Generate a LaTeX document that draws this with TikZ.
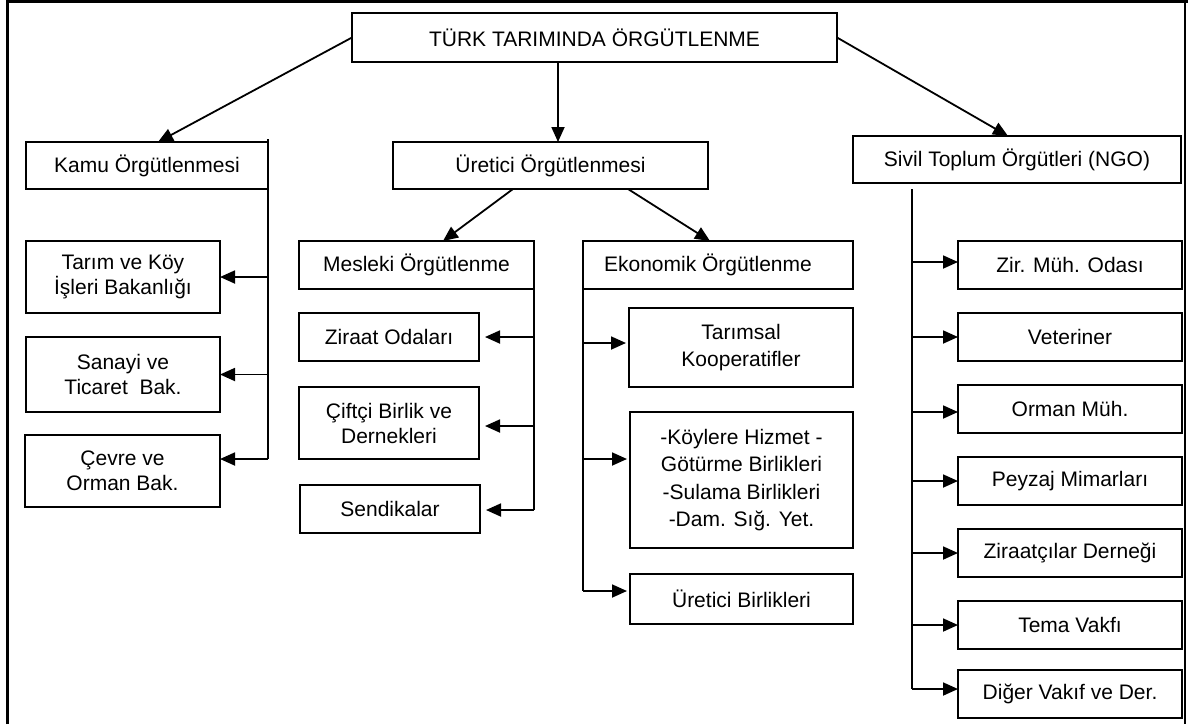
\documentclass[tikz,border=0pt]{standalone}
\usepackage{fontspec}
\setmainfont{Liberation Sans}
\usetikzlibrary{arrows.meta}
\begin{document}
\begin{tikzpicture}[x=1pt,y=-1pt,
  box/.style={draw, line width=1.9pt, inner sep=0pt, outer sep=0pt, align=center,
    font=\fontsize{21}{25}\selectfont},
  tall/.style={font=\fontsize{21}{27.5}\selectfont},
  conn/.style={line width=1.8pt},
  arr/.style={conn, -{Triangle[length=15pt,width=13pt]}},
  ngo/.style={box, minimum width=224pt, minimum height=48pt}]
\useasboundingbox (0,0) rectangle (1188,724);
% frame
\draw[line width=3pt] (7,724) -- (7,1.5) -- (1188,1.5);
\draw[line width=2pt] (1185,0) -- (1185,724);

% level 0/1
\node[box, minimum width=485pt, minimum height=49pt] (top) at (594.5,37.5) {TÜRK TARIMINDA ÖRGÜTLENME};
\node[box, minimum width=242pt, minimum height=47pt] (kamu) at (147,165.5) {Kamu Örgütlenmesi};
\node[box, minimum width=315pt, minimum height=47pt] (ure) at (550.5,165.5) {Üretici Örgütlenmesi};
\node[box, minimum width=328pt, minimum height=47pt] (sivil) at (1017,159.5) {Sivil Toplum Örgütleri (NGO)};

% Kamu children
\node[box, minimum width=194pt, minimum height=72pt] (tarim) at (123,277) {Tarım ve Köy\\İşleri Bakanlığı};
\node[box, minimum width=194pt, minimum height=75pt] (sanayi) at (123,374.5) {Sanayi ve\\Ticaret\ \ Bak.};
\node[box, minimum width=195pt, minimum height=72pt] (cevre) at (122.5,471) {Çevre ve\\Orman Bak.};

% Uretici children
\node[box, minimum width=235pt, minimum height=48pt] (mes) at (416.5,265) {Mesleki Örgütlenme};
\node[box, minimum width=270pt, minimum height=48pt] (eko) at (718,265) {\hspace*{-20pt}Ekonomik Örgütlenme};

\node[box, minimum width=180pt, minimum height=48pt] (ziraat) at (389,337) {Ziraat Odaları};
\node[box, minimum width=180pt, minimum height=72pt] (ciftci) at (389,423) {Çiftçi Birlik ve\\Dernekleri};
\node[box, minimum width=180pt, minimum height=48pt] (send) at (390,509) {Sendikalar};

\node[box, tall, minimum width=224pt, minimum height=79pt] (koop) at (741,347.5) {Tarımsal\\Kooperatifler};
\node[box, tall, minimum width=223pt, minimum height=136pt] (koy) at (741.5,480) {-Köylere Hizmet -\\Götürme Birlikleri\\-Sulama Birlikleri\\-Dam. Sığ. Yet.};
\node[box, minimum width=223pt, minimum height=50pt] (ubir) at (741.5,599) {Üretici Birlikleri};

% NGO children
\node[ngo] (n1) at (1070,265) {Zir. Müh. Odası};
\node[ngo] (n2) at (1070,337) {Veteriner};
\node[ngo] (n3) at (1070,409) {Orman Müh.};
\node[ngo] (n4) at (1070,481) {Peyzaj Mimarları};
\node[ngo] (n5) at (1070,553) {Ziraatçılar Derneği};
\node[ngo] (n6) at (1070,625) {Tema Vakfı};
\node[ngo] (n7) at (1070,694) {Diğer Vakıf ve Der.};

% top-level arrows
\draw[arr] (top.west) -- ([xshift=11pt]kamu.north);
\draw[arr] ([xshift=7.5pt]ure.north |- top.south) -- ([xshift=7.5pt]ure.north);
\draw[arr] (top.east) -- ([xshift=-9pt]sivil.north);
\draw[arr] ([xshift=-37.5pt]ure.south) -- ([xshift=26.5pt]mes.north);
\draw[arr] ([xshift=77.5pt]ure.south) -- ([xshift=-8pt]eko.north);

% Kamu trunk
\coordinate (kt) at (268,139);
\coordinate (kb) at (268,459);
\draw[conn] (kt) -- (kb);
\draw[arr] (tarim.east -| kt) -- (tarim.east);
\draw[arr] (sanayi.east -| kt) -- (sanayi.east);
\draw[arr] (kb) -- (kb -| cevre.east);

% Mesleki trunk
\coordinate (mb) at (534,510);
\draw[conn] (mes.south east) -- (mb);
\draw[arr, shorten >=6pt] (ziraat.east -| mb) -- (ziraat.east);
\draw[arr, shorten >=6pt] ([yshift=-3pt]ciftci.east -| mb) -- ([yshift=-3pt]ciftci.east);
\draw[arr, shorten >=6pt] (mb) -- (mb -| send.east);

% Ekonomik trunk
\coordinate (eb) at (583,591);
\draw[conn] (eko.south west) -- (eb);
\draw[arr, shorten >=3pt] ([yshift=4.5pt]koop.west -| eb) -- ([yshift=4.5pt]koop.west);
\draw[arr, shorten >=3pt] ([yshift=21pt]koy.west -| eb) -- ([yshift=21pt]koy.west);
\draw[arr, shorten >=3pt] (eb) -- (eb -| ubir.west);

% NGO trunk
\coordinate (st) at (912,189);
\coordinate (sb) at (912,689);
\draw[conn] (st) -- (sb);
\draw[arr] ([yshift=3pt]n1.west -| st) -- ([yshift=3pt]n1.west);
\draw[arr] (n2.west -| st) -- (n2.west);
\draw[arr] ([yshift=-3pt]n3.west -| st) -- ([yshift=-3pt]n3.west);
\draw[arr] (n4.west -| st) -- (n4.west);
\draw[arr] (n5.west -| st) -- (n5.west);
\draw[arr] (n6.west -| st) -- (n6.west);
\draw[arr] (sb) -- (sb -| n7.west);
\end{tikzpicture}
\end{document}
